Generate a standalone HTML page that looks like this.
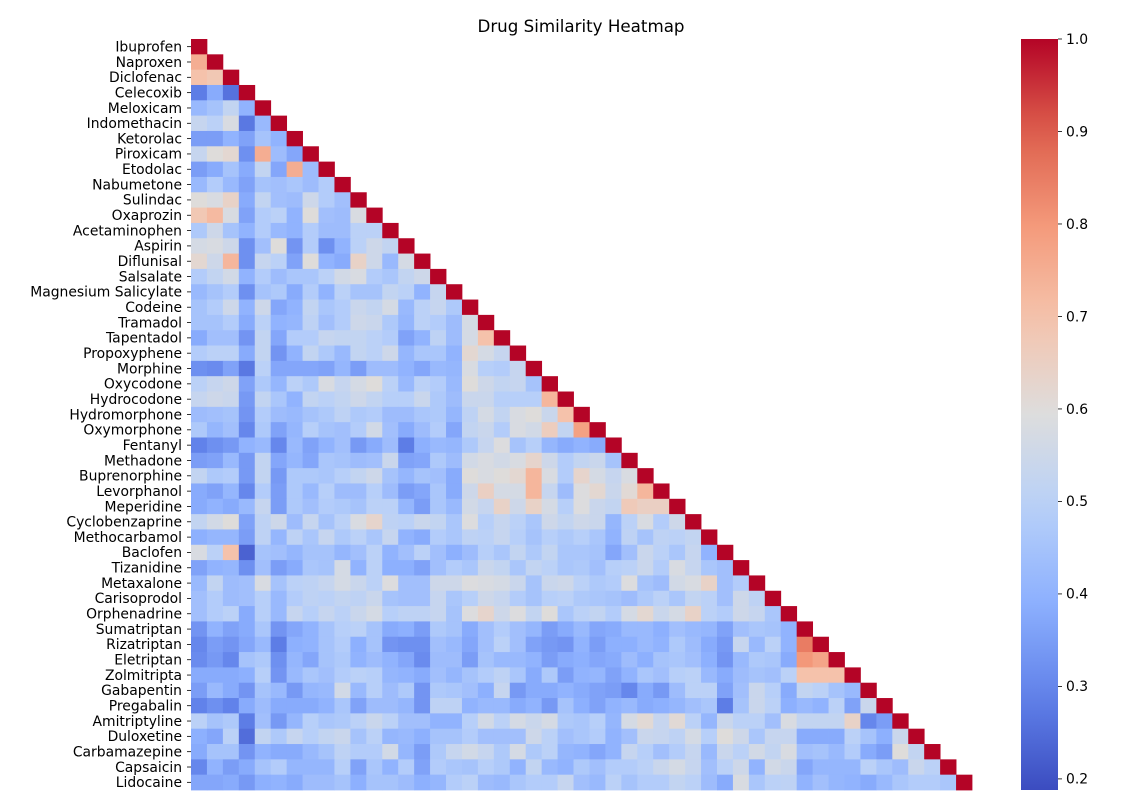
<!DOCTYPE html>
<html><head><meta charset="utf-8"><style>
html,body{margin:0;padding:0;background:#fff;}
svg{display:block;font-family:"DejaVu Sans","Liberation Sans",sans-serif;}
</style></head><body>
<svg id="chart" width="1134" height="812" viewBox="0 0 1134 812">
<text x="581" y="32" font-size="16.7" text-anchor="middle">Drug Similarity Heatmap</text>
<g id="cells"></g>
<g id="ylabels"></g>
<defs><linearGradient id="cbg" x1="0" y1="1" x2="0" y2="0"></linearGradient></defs>
<rect x="1021" y="39" width="37" height="751" fill="url(#cbg)"/>
<g id="cbticks"></g>
</svg>
<script>
const drugs = ["Ibuprofen","Naproxen","Diclofenac","Celecoxib","Meloxicam","Indomethacin","Ketorolac","Piroxicam","Etodolac","Nabumetone","Sulindac","Oxaprozin","Acetaminophen","Aspirin","Diflunisal","Salsalate","Magnesium Salicylate","Codeine","Tramadol","Tapentadol","Propoxyphene","Morphine","Oxycodone","Hydrocodone","Hydromorphone","Oxymorphone","Fentanyl","Methadone","Buprenorphine","Levorphanol","Meperidine","Cyclobenzaprine","Methocarbamol","Baclofen","Tizanidine","Metaxalone","Carisoprodol","Orphenadrine","Sumatriptan","Rizatriptan","Eletriptan","Zolmitripta","Gabapentin","Pregabalin","Amitriptyline","Duloxetine","Carbamazepine","Capsaicin","Lidocaine"];
const rowsA = [
[100],
[75,100],
[70,68,100],
[28,38,26,100],
[42,45,52,40,100],
[53,50,58,27,42,100],
[35,35,40,36,45,40,100],
[53,60,62,32,75,43,37,100],
[35,38,45,38,52,37,75,43,100],
[42,48,42,36,45,44,46,43,48,100],
[60,58,64,38,52,44,43,55,48,44,100],
[68,72,58,36,48,50,40,60,44,43,58,100],
[47,55,45,40,48,42,40,48,43,43,50,50,100],
[57,58,55,32,44,60,33,48,32,40,50,55,52,100],
[62,55,73,32,53,50,36,60,40,38,64,55,42,57,100],
[48,52,56,40,48,43,46,46,50,56,58,48,46,52,55,100],
[42,45,48,32,45,47,38,48,40,50,45,45,52,50,40,53,100]];
const rowsB = [
[45,48,55,40,55,37,40,52,46,48,54,52,57,42,50,53,47,100],
[45,45,48,38,50,40,41,51,44,48,55,54,47,41,50,48,43,57,100],
[38,44,44,33,52,37,48,48,53,52,52,50,48,36,40,51,43,57,70,100],
[48,50,50,38,52,33,40,52,47,42,52,50,55,41,46,46,40,62,57,53,100],
[32,31,36,27,50,37,37,37,36,41,35,43,43,40,37,42,41,58,49,48,53,100],
[50,53,55,36,47,41,50,47,58,53,57,60,50,42,50,48,42,60,55,52,53,45,100],
[53,55,54,34,52,46,40,52,50,52,55,52,49,49,54,47,43,54,54,49,49,49,73,100],
[43,44,45,33,48,43,42,45,47,51,47,48,43,43,46,47,41,51,57,52,58,60,54,70,100],
[47,41,44,30,47,36,41,49,45,44,48,56,44,38,43,48,37,52,54,48,58,56,66,52,78,100],
[29,32,34,40,42,30,42,36,40,44,34,38,43,28,39,42,41,47,53,59,45,49,41,38,40,38,100],
[35,36,42,34,52,37,41,37,46,45,43,44,54,36,37,47,43,56,58,56,58,63,55,48,52,54,45,100],
[52,47,48,34,52,34,47,47,46,49,52,55,45,41,45,44,38,60,58,60,62,73,58,48,63,57,53,58,100],
[38,36,41,30,48,35,47,42,49,43,43,49,43,35,37,46,38,55,65,57,57,73,53,43,59,62,54,61,73,100],
[38,40,38,42,53,35,47,44,48,47,45,50,50,41,35,46,42,56,53,64,55,64,57,49,59,54,52,67,65,65,100],
[52,56,60,36,51,55,43,53,45,50,58,63,51,50,54,52,46,59,49,53,50,46,55,52,55,54,41,50,58,48,55,100],
[39,41,41,35,51,41,51,46,53,47,50,46,53,40,38,48,46,51,50,53,49,45,49,47,49,46,40,51,45,51,50,52,100]];
const rowsC = [
[58,50,70,23,45,44,41,45,45,41,44,50,40,44,50,44,39,43,49,46,52,47,52,46,46,45,37,44,54,50,46,53,40,100],
[36,40,41,32,44,35,38,46,45,57,40,50,39,39,36,44,48,46,54,52,46,52,50,46,47,44,49,50,54,48,58,53,46,44,100],
[42,52,43,44,58,45,50,51,53,57,54,50,59,44,44,55,55,59,58,57,54,45,54,55,50,47,48,59,45,43,56,58,64,44,48,100],
[44,48,43,44,49,42,48,51,50,52,51,54,45,44,44,53,46,49,55,53,48,45,49,50,47,46,45,43,47,50,46,52,50,44,55,51,100],
[44,48,50,38,49,42,53,49,53,50,54,57,49,51,51,53,45,59,63,55,59,52,60,46,50,52,48,57,62,54,57,64,50,48,55,53,46,100],
[33,40,36,38,46,33,37,40,45,49,50,45,38,39,35,47,45,38,44,48,44,41,35,38,42,37,38,42,42,39,44,42,41,36,44,46,45,40,100],
[30,35,33,37,42,28,39,40,45,48,39,45,33,32,32,44,42,37,44,50,44,36,34,33,40,35,39,39,42,40,47,43,38,34,53,42,50,40,85,100],
[31,34,30,45,47,32,41,37,45,47,40,43,40,37,31,43,43,35,45,42,42,40,35,38,39,37,38,43,39,45,46,44,39,33,42,47,46,38,80,77,100],
[38,38,38,39,49,33,42,46,44,48,50,49,41,40,38,44,41,45,48,51,46,38,47,35,40,41,36,40,46,44,49,50,42,38,43,45,44,50,70,70,70,100],
[35,42,38,33,45,42,34,41,42,56,42,49,43,47,33,47,46,44,39,53,34,38,38,40,38,36,35,30,38,34,43,50,50,36,44,54,49,38,52,50,45,42,100],
[29,32,29,38,43,38,38,38,40,46,36,43,43,41,33,51,51,40,42,42,38,40,34,45,39,36,40,42,38,39,41,44,46,28,45,54,50,39,42,40,50,36,54,100],
[50,45,47,28,44,34,41,49,46,47,50,54,50,44,44,40,40,49,56,50,57,54,57,47,46,49,41,57,61,53,61,50,41,54,50,50,44,58,52,52,52,64,30,35,100],
[39,37,50,25,52,47,53,49,52,54,45,50,41,42,39,45,45,48,44,44,44,55,50,44,46,48,40,44,54,53,51,57,49,60,55,46,53,53,38,38,38,50,45,39,54,100],
[38,45,45,33,40,38,38,42,45,51,48,48,56,41,35,47,53,56,53,47,57,47,50,41,40,37,40,53,49,44,48,53,42,54,50,56,52,58,44,45,42,48,38,35,60,52,100],
[30,40,35,38,45,48,41,41,41,49,36,46,40,48,36,48,46,45,49,47,40,52,42,40,47,44,48,48,50,54,57,53,44,50,55,40,56,54,37,41,41,41,50,46,43,54,50,100],
[37,37,38,34,39,40,38,43,43,45,39,45,45,43,39,41,48,50,43,42,46,48,48,53,44,42,50,45,48,48,52,50,43,38,58,46,50,51,40,44,41,40,38,42,46,48,48,46,100]];
const cbTicks = [0.2,0.3,0.4,0.5,0.6,0.7,0.8,0.9,1.0];
const vmin = 0.188, vmax = 1.0;
const X0 = 191, Y0 = 39, W = 781, H = 751;
const N = drugs.length;
const cw = W / N, ch = H / N;
const stops = [[0,[59,76,192]],[0.125,[97,130,234]],[0.25,[141,176,254]],[0.375,[184,208,249]],[0.5,[221,221,221]],[0.625,[245,196,173]],[0.75,[244,154,123]],[0.875,[222,96,77]],[1,[180,4,38]]];
function cmap(t){
  t = Math.max(0, Math.min(1, t));
  for (let i = 1; i < stops.length; i++) {
    if (t <= stops[i][0]) {
      const a = stops[i-1], b = stops[i], f = (t - a[0]) / (b[0] - a[0]);
      const c = a[1].map((v, k) => Math.round(v + (b[1][k] - v) * f));
      return `rgb(${c[0]},${c[1]},${c[2]})`;
    }
  }
  return 'rgb(180,4,38)';
}
function xs(j){ return X0 + j * cw; }
function ys(i){ return Y0 + i * ch; }
function yv(v){ return Y0 + H - (v - vmin) / (vmax - vmin) * H; }
const NS = 'http://www.w3.org/2000/svg';
const rows = rowsA.concat(rowsB, rowsC);
const cells = document.getElementById('cells');
rows.forEach((row, i) => {
  row.forEach((v, j) => {
    const r = document.createElementNS(NS, 'rect');
    r.setAttribute('x', xs(j).toFixed(2));
    r.setAttribute('y', ys(i).toFixed(2));
    r.setAttribute('width', (cw + 0.4).toFixed(2));
    r.setAttribute('height', (ch + 0.4).toFixed(2));
    r.setAttribute('fill', cmap((v / 100 - vmin) / (vmax - vmin)));
    
    
    cells.appendChild(r);
  });
});
const yl = document.getElementById('ylabels');
drugs.forEach((d, i) => {
  const cy = ys(i) + ch / 2;
  const t = document.createElementNS(NS, 'text');
  t.setAttribute('x', 182);
  t.setAttribute('y', cy + 4.8);
  t.setAttribute('font-size', '13.9');
  t.setAttribute('text-anchor', 'end');
  t.textContent = d;
  
  
  yl.appendChild(t);
  const l = document.createElementNS(NS, 'line');
  l.setAttribute('x1', 187); l.setAttribute('x2', 191);
  l.setAttribute('y1', cy); l.setAttribute('y2', cy);
  l.setAttribute('stroke', '#000'); l.setAttribute('stroke-width', '0.8');
  
  
  yl.appendChild(l);
});
const g = document.getElementById('cbg');
for (let k = 0; k <= 20; k++) {
  const s = document.createElementNS(NS, 'stop');
  s.setAttribute('offset', (k / 20).toFixed(3));
  s.setAttribute('stop-color', cmap(k / 20));
  g.appendChild(s);
}
const cbt = document.getElementById('cbticks');
cbTicks.forEach(v => {
  const y = yv(v);
  const l = document.createElementNS(NS, 'line');
  l.setAttribute('x1', 1058); l.setAttribute('x2', 1062);
  l.setAttribute('y1', y); l.setAttribute('y2', y);
  l.setAttribute('stroke', '#000'); l.setAttribute('stroke-width', '0.8');
  
  
  cbt.appendChild(l);
  const t = document.createElementNS(NS, 'text');
  t.setAttribute('x', 1066); t.setAttribute('y', y + 4.8);
  t.setAttribute('font-size', '13.9');
  t.textContent = v.toFixed(1);
  
  
  cbt.appendChild(t);
});
</script>
</body></html>
